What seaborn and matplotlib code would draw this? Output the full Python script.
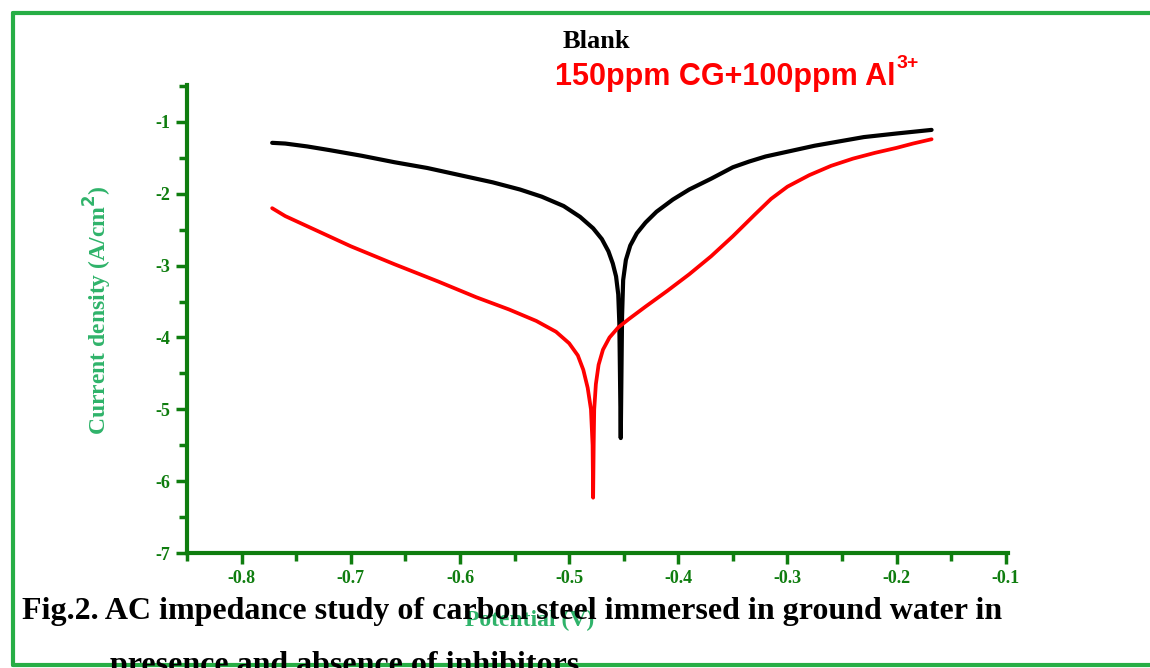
import numpy as np
import pandas as pd
import matplotlib
matplotlib.use("Agg")
import matplotlib.pyplot as plt
import seaborn as sns
from matplotlib.ticker import MultipleLocator
from matplotlib.lines import Line2D

# ---- data ----
blank_potential = [-0.772, -0.760, -0.740, -0.720, -0.690, -0.660, -0.630, -0.600, -0.570,
                   -0.545, -0.525, -0.505, -0.490, -0.478, -0.470, -0.464, -0.460, -0.457,
                   -0.455, -0.454, -0.4535, -0.4527,
                   -0.4520, -0.4515, -0.4505, -0.448, -0.444, -0.438, -0.430, -0.420, -0.405,
                   -0.390, -0.370, -0.350, -0.335, -0.320, -0.305, -0.290, -0.275, -0.260,
                   -0.230, -0.200, -0.168]
blank_current = [-1.29, -1.30, -1.34, -1.39, -1.47, -1.56, -1.64, -1.74, -1.84,
                 -1.94, -2.04, -2.17, -2.32, -2.48, -2.63, -2.80, -2.97, -3.15,
                 -3.40, -3.80, -4.40, -5.40,
                 -4.40, -3.70, -3.20, -2.92, -2.72, -2.55, -2.40, -2.25, -2.08,
                 -1.94, -1.79, -1.63, -1.55, -1.48, -1.43, -1.38, -1.33, -1.29,
                 -1.21, -1.16, -1.11]

inh_potential = [-0.772, -0.760, -0.740, -0.700, -0.660, -0.620, -0.585, -0.555, -0.530,
                 -0.512, -0.500, -0.492, -0.487, -0.483, -0.480, -0.4785, -0.478,
                 -0.4775, -0.477, -0.4755, -0.473, -0.469, -0.463, -0.455, -0.445, -0.430,
                 -0.410, -0.390, -0.370, -0.350, -0.330, -0.315, -0.300, -0.280, -0.260,
                 -0.240, -0.220, -0.200, -0.185, -0.168]
inh_current = [-2.20, -2.31, -2.45, -2.73, -2.98, -3.22, -3.44, -3.61, -3.77,
               -3.92, -4.08, -4.25, -4.45, -4.70, -5.00, -5.50, -6.23,
               -5.50, -5.00, -4.65, -4.38, -4.17, -4.00, -3.86, -3.74, -3.57,
               -3.35, -3.12, -2.87, -2.59, -2.29, -2.07, -1.90, -1.74, -1.61,
               -1.51, -1.43, -1.36, -1.30, -1.24]

series_names = ["Blank", "150ppm CG+100ppm Al"]
series_sup = "3+"
series_colors = ["#000000", "#ff0000"]
x_ticks = [-0.8, -0.7, -0.6, -0.5, -0.4, -0.3, -0.2, -0.1]
y_ticks = [-1, -2, -3, -4, -5, -6, -7]

df = pd.concat([
    pd.DataFrame({"Potential": blank_potential, "Current": blank_current,
                  "series": series_names[0]}),
    pd.DataFrame({"Potential": inh_potential, "Current": inh_current,
                  "series": series_names[1]}),
], ignore_index=True)

sns.set_theme(style="white")
plt.rcParams["font.family"] = ["Liberation Serif", "DejaVu Serif"]

W, H = 1150, 668
fig = plt.figure(figsize=(W / 100, H / 100), dpi=100)
ax = fig.add_axes([187 / W, 1 - 553 / H, (1008 - 187) / W, (553 - 85) / H])

axis_green = "#0f7d0f"
label_green = "#2fb36a"

for name, col, lw in zip(series_names, series_colors, [3.0, 2.7]):
    sub = df[df["series"] == name]
    sns.lineplot(data=sub, x="Potential", y="Current", sort=False, estimator=None,
                 color=col, linewidth=lw, ax=ax, legend=False)
for ln in ax.get_lines():
    ln.set_solid_joinstyle("round")
    ln.set_solid_capstyle("round")

ax.set_xlim(-0.85, -0.098)
ax.set_ylim(-7, -0.485)
ax.set_xticks(x_ticks)
ax.set_yticks(y_ticks)
ax.xaxis.set_minor_locator(MultipleLocator(0.05))
ax.yaxis.set_minor_locator(MultipleLocator(0.5))
ax.set_xticklabels([f"{t:.1f}" for t in x_ticks])
ax.set_yticklabels([f"{t:d}" for t in y_ticks])

for s in ["top", "right"]:
    ax.spines[s].set_visible(False)
for s in ["left", "bottom"]:
    ax.spines[s].set_color(axis_green)
    ax.spines[s].set_linewidth(3)

ax.tick_params(axis="both", which="major", direction="out", length=8, width=2.5,
               color=axis_green, labelcolor=axis_green, labelsize=13, pad=4,
               bottom=True, left=True)
ax.tick_params(axis="both", which="minor", direction="out", length=6, width=2.5,
               color=axis_green, bottom=True, left=True)
for lab in ax.get_xticklabels() + ax.get_yticklabels():
    lab.set_fontweight("bold")

ax.set_xlabel("Potential (V)", fontsize=17, fontweight="bold", color=label_green)
ax.set_ylabel("Current density (A/cm$^\\mathbf{2}$)", fontsize=17, fontweight="bold",
              color=label_green)
ax.xaxis.set_label_coords((530 - 187) / (1008 - 187), -(610 - 553) / (553 - 85))
ax.yaxis.set_label_coords(-(187 - 114) / (1008 - 187), (553 - 310) / (553 - 85))

# legend texts
fig.text(563 / W, 1 - 42 / H, series_names[0], fontsize=19, fontweight="bold",
         color=series_colors[0], va="center", ha="left")
red_txt = fig.text(555 / W, 1 - 77 / H, series_names[1], fontsize=22, fontweight="bold",
                   color=series_colors[1], va="center", ha="left",
                   family=["Liberation Sans", "DejaVu Sans"])
fig.canvas.draw()
bb = red_txt.get_window_extent(renderer=fig.canvas.get_renderer())
fig.text((bb.x1 + 1) / W, (bb.y1 - 2) / H, series_sup, fontsize=14, fontweight="bold",
         color=series_colors[1], va="center", ha="left",
         family=["Liberation Sans", "DejaVu Sans"])

# caption
fig.text(22 / W, 1 - 611 / H,
         "Fig.2. AC impedance study of carbon steel immersed in ground water in",
         fontsize=23, fontweight="bold", color="black", va="center", ha="left", zorder=10)
fig.text(110 / W, 1 - 665 / H, "presence and absence of inhibitors",
         fontsize=23, fontweight="bold", color="black", va="center", ha="left", zorder=10)

# green frame around the figure
frame_green = "#27ae45"
fig.add_artist(Line2D([13 / W, 1.0], [1 - 13 / H, 1 - 13 / H], transform=fig.transFigure,
                      color=frame_green, linewidth=3))
fig.add_artist(Line2D([13 / W, 13 / W], [1 - 13 / H, 1 - 665 / H], transform=fig.transFigure,
                      color=frame_green, linewidth=3))
fig.add_artist(Line2D([13 / W, 1.0], [1 - 665 / H, 1 - 665 / H], transform=fig.transFigure,
                      color=frame_green, linewidth=3, zorder=0))

fig.savefig("out.png", dpi=100)
